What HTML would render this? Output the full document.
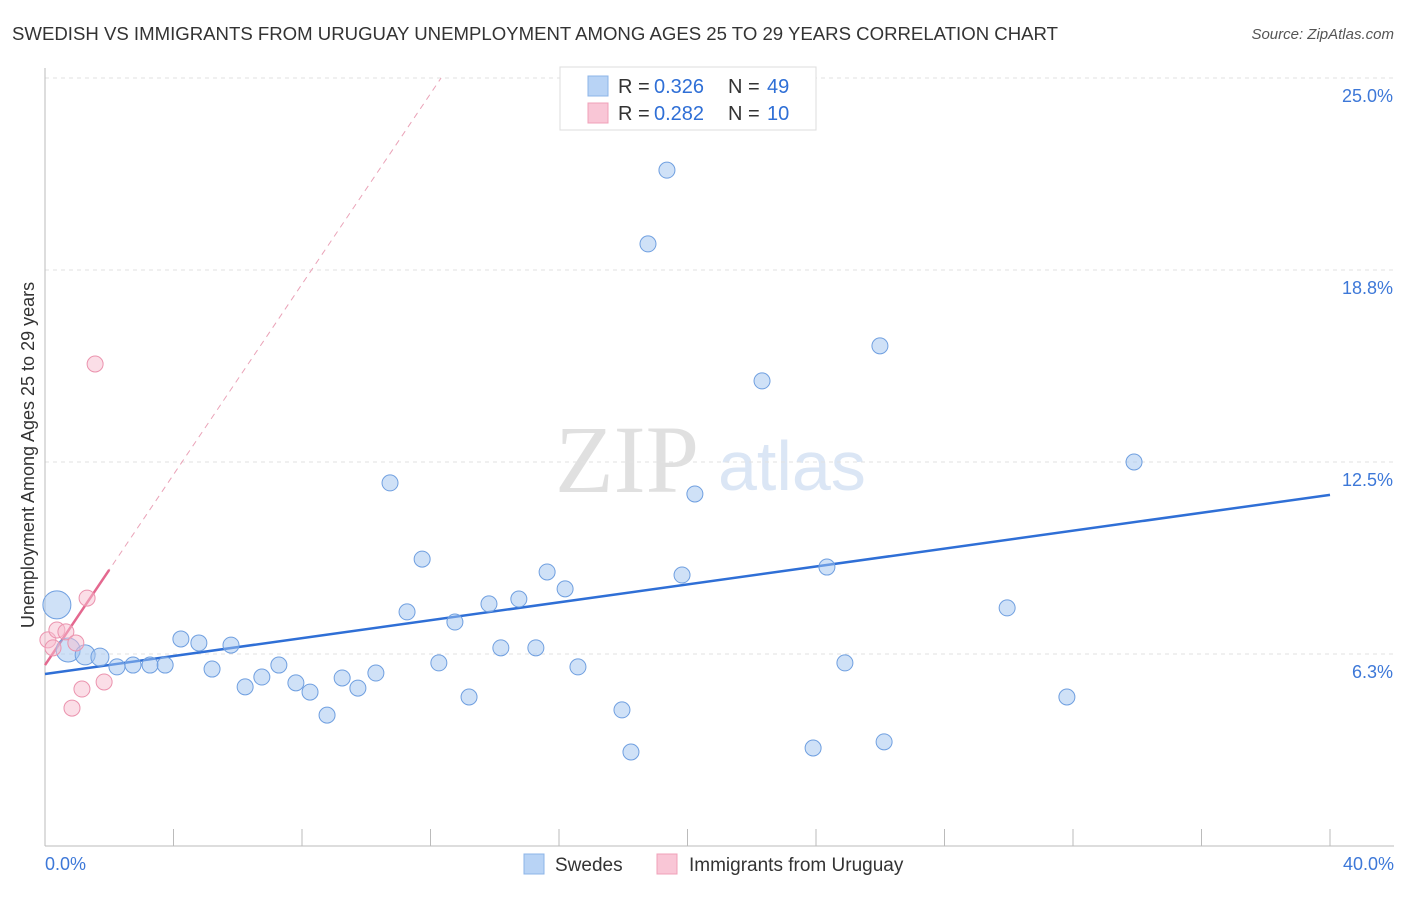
<!DOCTYPE html>
<html><head><meta charset="utf-8"><style>
body{margin:0;background:#fff;font-family:"Liberation Sans",sans-serif}
</style></head><body>
<svg id="chart" width="1406" height="892" xmlns="http://www.w3.org/2000/svg" font-family="Liberation Sans, sans-serif">
<text x="12" y="40" font-size="18" fill="#333" textLength="1046" lengthAdjust="spacingAndGlyphs">SWEDISH VS IMMIGRANTS FROM URUGUAY UNEMPLOYMENT AMONG AGES 25 TO 29 YEARS CORRELATION CHART</text>
<text x="1394" y="39" font-size="15" fill="#555" font-style="italic" text-anchor="end">Source: ZipAtlas.com</text>
<g>
<text x="555" y="492" font-size="96" fill="#e0e0e0" font-family="Liberation Serif, serif">ZIP</text>
<text x="718" y="490" font-size="70" fill="#dbe6f5">atlas</text>
</g>
<g id="grid"></g>
<g id="axes"></g>
<g id="lines"></g>
<g id="pts"></g>
<text x="34" y="455" font-size="18" fill="#333" text-anchor="middle" transform="rotate(-90 34 455)">Unemployment Among Ages 25 to 29 years</text>
<g>
<rect x="560" y="67" width="256" height="63" fill="#fff" stroke="#ddd"/>
<rect x="588" y="76" width="20" height="20" fill="#b8d3f5" stroke="#8cb4e8"/>
<rect x="588" y="103" width="20" height="20" fill="#f9c6d6" stroke="#f0a0b8"/>
<text x="618" y="93" font-size="20" fill="#333">R =</text><text x="654" y="93" font-size="20" fill="#2f6fd6">0.326</text>
<text x="728" y="93" font-size="20" fill="#333">N =</text><text x="767" y="93" font-size="20" fill="#2f6fd6">49</text>
<text x="618" y="120" font-size="20" fill="#333">R =</text><text x="654" y="120" font-size="20" fill="#2f6fd6">0.282</text>
<text x="728" y="120" font-size="20" fill="#333">N =</text><text x="767" y="120" font-size="20" fill="#2f6fd6">10</text>
</g>
<g>
<rect x="524" y="854" width="20" height="20" fill="#b8d3f5" stroke="#8cb4e8"/>
<text x="555" y="871" font-size="19" fill="#333">Swedes</text>
<rect x="657" y="854" width="20" height="20" fill="#f9c6d6" stroke="#f0a0b8"/>
<text x="689" y="871" font-size="19" fill="#333">Immigrants from Uruguay</text>
</g>
</svg>
<script>
const yTicks=[25,18.75,12.5,6.25];
const yTickLabels=["25.0%","18.8%","12.5%","6.3%"];
const xTicks=[0,4,8,12,16,20,24,28,32,36,40];
const blueX=[0.37,0.72,1.25,1.71,2.24,2.74,3.27,3.74,4.23,4.79,5.2,5.79,6.23,6.75,7.28,7.81,8.25,8.78,9.25,9.74,10.3,10.74,11.27,11.74,12.26,12.76,13.2,13.82,14.19,14.75,15.28,15.63,16.19,16.59,17.96,18.24,18.77,19.36,19.83,20.23,22.32,23.91,24.34,24.9,25.99,26.12,29.95,31.81,33.9];
const blueY=[7.85,6.38,6.22,6.15,5.83,5.89,5.89,5.89,6.74,6.61,5.76,6.54,5.18,5.5,5.89,5.31,5.01,4.26,5.47,5.14,5.63,11.82,7.62,9.34,5.96,7.29,4.85,7.88,6.45,8.04,6.45,8.92,8.37,5.83,4.43,3.06,19.6,22.0,8.82,11.46,15.14,3.19,9.08,5.96,16.28,3.39,7.75,4.85,12.5];
const blueSize=[14,12,10,9,8,8,8,8,8,8,8,8,8,8,8,8,8,8,8,8,8,8,8,8,8,8,8,8,8,8,8,8,8,8,8,8,8,8,8,8,8,8,8,8,8,8,8,8,8];
const pinkX=[0.09,0.37,0.65,0.96,1.31,1.56,0.84,1.15,1.84,0.25];
const pinkY=[6.71,7.03,6.97,6.61,8.07,15.69,4.49,5.11,5.34,6.45];
const blueTrend=[5.6,11.43];
const pinkTrend=[5.89,1.55];
const X=v=>45+v*(1285/40), Y=v=>846-v*30.72;
const NS="http://www.w3.org/2000/svg";
function mk(p,t,a){const e=document.createElementNS(NS,t);for(const k in a)e.setAttribute(k,a[k]);document.getElementById(p).appendChild(e);return e;}
yTicks.forEach((t,i)=>{
 const l=mk('grid','line',{x1:45,x2:1394,y1:Y(t),y2:Y(t),stroke:'#e2e2e2','stroke-dasharray':'4 4'});
 
 
 const tx=mk('axes','text',{x:1393,y:Y(t)+24,'font-size':18,fill:'#3d78d8','text-anchor':'end'});
 tx.textContent=yTickLabels[i];
 
 
});
let a=mk('axes','line',{x1:45,x2:45,y1:68,y2:846,stroke:'#bbb'});


a=mk('axes','line',{x1:45,x2:1394,y1:846,y2:846,stroke:'#bbb'});


xTicks.forEach(t=>{const l=mk('axes','line',{x1:X(t),x2:X(t),y1:829,y2:846,stroke:'#bbb'});
 
 });
let t0=mk('axes','text',{x:45,y:870,'font-size':18,fill:'#3d78d8'});t0.textContent="0.0%";


let t1=mk('axes','text',{x:1394,y:870,'font-size':18,fill:'#3d78d8','text-anchor':'end'});t1.textContent="40.0%";


let ln=mk('lines','line',{x1:X(0),y1:Y(blueTrend[0]),x2:X(40),y2:Y(blueTrend[1]),stroke:'#2f6fd6','stroke-width':2.5});


const pe=(25-pinkTrend[0])/pinkTrend[1];
ln=mk('lines','line',{x1:X(0),y1:Y(pinkTrend[0]),x2:X(pe),y2:Y(25),stroke:'#eaa3b8','stroke-width':1,'stroke-dasharray':'6 5'});


ln=mk('lines','line',{x1:X(0),y1:Y(pinkTrend[0]),x2:X(2),y2:Y(pinkTrend[0]+2*pinkTrend[1]),stroke:'#e4688f','stroke-width':2.5});


blueX.forEach((x,i)=>{const c=mk('pts','circle',{cx:X(x),cy:Y(blueY[i]),r:blueSize[i],fill:'rgba(160,196,240,0.5)',stroke:'#6f9fe0','stroke-width':1});
 
 });
pinkX.forEach((x,i)=>{const c=mk('pts','circle',{cx:X(x),cy:Y(pinkY[i]),r:8,fill:'rgba(248,190,208,0.5)',stroke:'#eb93ae','stroke-width':1});
 
 });
</script>
</body></html>
